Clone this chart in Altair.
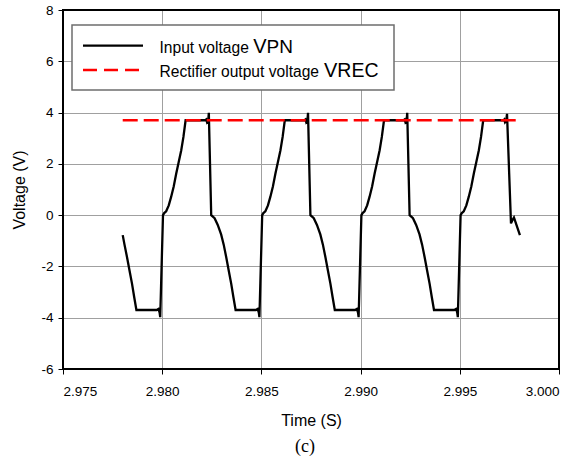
import altair as alt
import pandas as pd

# ---- data ----
t_vpn = [
    2.97801, 2.97810, 2.97823, 2.97835, 2.97848, 2.97859, 2.97870, 2.97972, 2.97981, 2.97987, 2.97990,
    2.98004, 2.98010, 2.98020, 2.98033, 2.98045, 2.98058, 2.98071, 2.98083, 2.98096, 2.98107, 2.98118,
    2.98217, 2.98222, 2.98226, 2.98232, 2.98235, 2.98247, 2.98254, 2.98264, 2.98280, 2.98297, 2.98310,
    2.98323, 2.98335, 2.98348, 2.98359, 2.98370, 2.98472, 2.98481, 2.98487, 2.98490,
    2.98504, 2.98510, 2.98520, 2.98533, 2.98545, 2.98558, 2.98571, 2.98583, 2.98596, 2.98607, 2.98618,
    2.98717, 2.98722, 2.98726, 2.98732, 2.98735, 2.98747, 2.98754, 2.98764, 2.98780, 2.98797, 2.98810,
    2.98823, 2.98835, 2.98848, 2.98859, 2.98870, 2.98972, 2.98981, 2.98987, 2.98990,
    2.99004, 2.99010, 2.99020, 2.99033, 2.99045, 2.99058, 2.99071, 2.99083, 2.99096, 2.99107, 2.99118,
    2.99217, 2.99222, 2.99226, 2.99232, 2.99235, 2.99247, 2.99254, 2.99264, 2.99280, 2.99297, 2.99310,
    2.99323, 2.99335, 2.99348, 2.99359, 2.99370, 2.99472, 2.99481, 2.99487, 2.99490,
    2.99504, 2.99510, 2.99520, 2.99533, 2.99545, 2.99558, 2.99571, 2.99583, 2.99596, 2.99607, 2.99618,
    2.99720, 2.99724, 2.99728, 2.99734, 2.99738, 2.99758, 2.99765, 2.99773, 2.99780, 2.99803,
]
v_vpn = [
    -0.78, -1.15, -1.65, -2.15, -2.68, -3.20, -3.70, -3.70, -3.66, -3.80, -3.98,
    0.00, 0.08, 0.15, 0.38, 0.71, 1.12, 1.63, 2.06, 2.53, 3.05, 3.70,
    3.70, 3.73, 3.62, 3.68, 3.99, 0.00, -0.05, -0.12, -0.38, -0.75, -1.15,
    -1.65, -2.15, -2.68, -3.20, -3.70, -3.70, -3.66, -3.80, -3.98,
    0.00, 0.08, 0.15, 0.38, 0.71, 1.12, 1.63, 2.06, 2.53, 3.05, 3.70,
    3.70, 3.73, 3.62, 3.68, 3.99, 0.00, -0.05, -0.12, -0.38, -0.75, -1.15,
    -1.65, -2.15, -2.68, -3.20, -3.70, -3.70, -3.66, -3.80, -3.98,
    0.00, 0.08, 0.15, 0.38, 0.71, 1.12, 1.63, 2.06, 2.53, 3.05, 3.70,
    3.70, 3.73, 3.62, 3.68, 3.99, 0.00, -0.05, -0.12, -0.38, -0.75, -1.15,
    -1.65, -2.15, -2.68, -3.20, -3.70, -3.70, -3.66, -3.80, -3.98,
    0.00, 0.08, 0.15, 0.38, 0.71, 1.12, 1.63, 2.06, 2.53, 3.05, 3.70,
    3.70, 3.73, 3.62, 3.68, 3.95, -0.32, -0.20, -0.09, -0.25, -0.78,
]
t_rec = [2.97801, 2.99803]
v_rec = [3.70, 3.70]

x_ticks = [2.975, 2.980, 2.985, 2.990, 2.995, 3.000]
y_ticks = [-6, -4, -2, 0, 2, 4, 6, 8]
x_domain = [2.975, 3.000]
y_domain = [-6, 8]

legend_main = ["Input voltage ", "Rectifier output voltage "]
legend_v = ["V", "V"]
legend_sub = ["PN", "REC"]
title_text = "(c)"

W, H = 496, 359
FONT = "Liberation Sans"

vpn = pd.DataFrame({"t": t_vpn, "v": v_vpn})
rec = pd.DataFrame({"t": t_rec, "v": v_rec})
one = pd.DataFrame({"k": [0]})

x_enc = alt.X("t:Q", scale=alt.Scale(domain=x_domain, nice=False, zero=False),
              axis=alt.Axis(values=x_ticks, format=".3f", title="Time (S)",
                            labelPadding=10, titlePadding=15))
y_enc = alt.Y("v:Q", scale=alt.Scale(domain=y_domain, nice=False, zero=False),
              axis=alt.Axis(values=y_ticks, labelExpr="'' + datum.value", title="Voltage (V)",
                            labelPadding=5, titlePadding=13))

line_vpn = alt.Chart(vpn).mark_line(color="black", strokeWidth=2.3, clip=True).encode(x=x_enc, y=y_enc)
line_rec = alt.Chart(rec).mark_line(color="#ff0000", strokeWidth=2.5, strokeDash=[15, 6]).encode(x=x_enc, y=y_enc)

border = alt.Chart(one).mark_rect(fill="white", fillOpacity=0, stroke="black", strokeWidth=2).encode(
    x=alt.value(0), x2=alt.value(W), y=alt.value(0), y2=alt.value(H))

box = alt.Chart(one).mark_rect(fill="white", stroke="#6e6e6e", strokeWidth=1.5).encode(
    x=alt.value(9), x2=alt.value(331), y=alt.value(15), y2=alt.value(80))
sym1 = alt.Chart(one).mark_rule(color="black", strokeWidth=2.3).encode(
    x=alt.value(20), x2=alt.value(80), y=alt.value(35.7))
sym2 = alt.Chart(one).mark_rule(color="#ff0000", strokeWidth=2.5, strokeDash=[14, 7]).encode(
    x=alt.value(20), x2=alt.value(80), y=alt.value(60))

def txt(s, x, y, size):
    return alt.Chart(one).mark_text(align="left", baseline="alphabetic", font=FONT,
                                    fontSize=size, color="black").encode(
        x=alt.value(x), y=alt.value(y), text=alt.value(s))

texts = [
    txt(legend_main[0], 96.5, 42.5, 15.6),
    txt(legend_v[0], 190.2, 42.5, 20),
    txt(legend_sub[0], 203.5, 42.5, 19),
    txt(legend_main[1], 96.5, 67, 15.6),
    txt(legend_v[1], 261, 67, 20),
    txt(legend_sub[1], 274.3, 67, 19.5),
]

chart = alt.layer(line_vpn, line_rec, box, sym1, sym2, *texts, border).properties(
    width=W, height=H,
    background="white",
    autosize=alt.AutoSizeParams(type="none"),
    padding={"left": 63, "top": 10, "right": 19, "bottom": 87},
    title=alt.TitleParams(text=title_text, orient="bottom", anchor="middle", font="Liberation Serif",
                          fontSize=18, fontWeight="normal", color="black", offset=9, dx=-6),
).configure_view(stroke=None).configure_axis(
    labelFont=FONT, labelFontSize=13.5, labelColor="black",
    titleFont=FONT, titleFontSize=16, titleFontWeight="normal", titleColor="black",
    grid=True, gridColor="#a0a0a0", gridWidth=1,
    tickColor="black", tickSize=5, tickWidth=1, domain=False,
)

chart.save("out.html", embed_options={"renderer": "svg", "actions": False})
